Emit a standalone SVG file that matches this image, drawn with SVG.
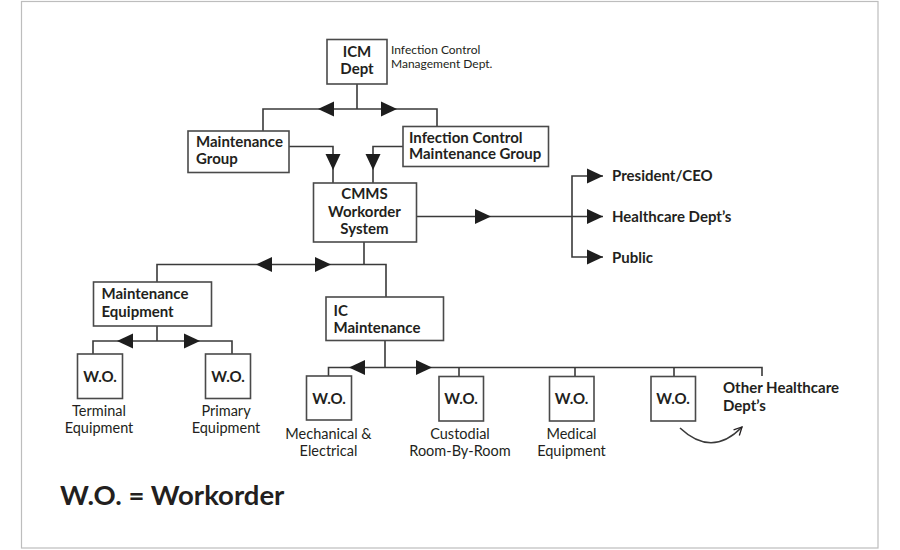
<svg xmlns="http://www.w3.org/2000/svg" width="900" height="550" viewBox="0 0 900 550">
<defs>
<style>
.frame{fill:#fff;stroke:#bdbdbd;stroke-width:1.2}
.box{fill:#fff;stroke:#4a4a4a;stroke-width:1.6}
.ln{fill:none;stroke:#3a3a3a;stroke-width:1.6}
.ah{fill:#1e1e1e}
.b{font-family:Lato,"Liberation Sans",sans-serif;font-weight:bold;font-size:15px;fill:#231f20}
.r{font-family:Lato,"Liberation Sans",sans-serif;font-size:14.5px;fill:#231f20}
.s{font-family:Lato,"Liberation Sans",sans-serif;font-size:12px;fill:#231f20}
.c{text-anchor:middle}
.big{font-family:Lato,"Liberation Sans",sans-serif;font-weight:bold;font-size:27.5px;fill:#231f20}
</style>
<path id="ar" d="M-16,-7.5 L0,0 L-16,7.5 Z"/>
<marker id="open" viewBox="0 0 10 10" refX="9" refY="5" markerWidth="10" markerHeight="10" markerUnits="userSpaceOnUse" orient="auto">
<path d="M1,1 L9,5 L1,9" fill="none" stroke="#231f20" stroke-width="1.3"/>
</marker>
</defs>
<rect x="0" y="0" width="900" height="550" fill="#fff"/>
<rect class="frame" x="21.5" y="1.5" width="856.5" height="546.5"/>

<g id="connectors">
<path class="ln" d="M357,84 V109 M263,131 V109 H437 V126"/>
<path class="ln" d="M289,146.5 H333 V183 M403,146.5 H373 V183"/>
<path class="ln" d="M417,216.5 H603 M603,176 H572 V257 H603"/>
<path class="ln" d="M364,242 V264.5 M157,282 V264.5 H386 V297"/>
<path class="ln" d="M157,326 V341 M93,354 V341 H232 V354"/>
<path class="ln" d="M385,341 V367.5 M328.5,376 V367.5 H762 V376 M459,367.5 V377 M575,367.5 V377 M674,367.5 V377"/>
<path class="ln" d="M680,428 Q712,458 742,427" stroke-width="1.4" marker-end="url(#open)"/>
<g class="ah">
<use href="#ar" transform="translate(318,109) rotate(180)"/>
<use href="#ar" transform="translate(397,109)"/>
<use href="#ar" transform="translate(333,170) rotate(90)"/>
<use href="#ar" transform="translate(373,170) rotate(90)"/>
<use href="#ar" transform="translate(491,216.5)"/>
<use href="#ar" transform="translate(603,176)"/>
<use href="#ar" transform="translate(603,216.5)"/>
<use href="#ar" transform="translate(603,257)"/>
<use href="#ar" transform="translate(256,264.5) rotate(180)"/>
<use href="#ar" transform="translate(331,264.5)"/>
<use href="#ar" transform="translate(117,341) rotate(180)"/>
<use href="#ar" transform="translate(200,341)"/>
<use href="#ar" transform="translate(349,367.5) rotate(180)"/>
<use href="#ar" transform="translate(432,367.5)"/>
</g>
</g>

<g id="icm">
<rect class="box" x="327" y="39.5" width="60" height="44.5"/>
<text class="b c" x="357" y="57">ICM</text>
<text class="b c" x="357" y="73.5">Dept</text>
<text class="s" x="391" y="53.5">Infection Control</text>
<text class="s" x="391" y="68">Management Dept.</text>
</g>

<g id="maint-group">
<rect class="box" x="188" y="131" width="101" height="41.5"/>
<text class="b" x="196" y="147">Maintenance</text>
<text class="b" x="196" y="163.5">Group</text>
</g>

<g id="ic-maint-group">
<rect class="box" x="403" y="126.5" width="145.5" height="40"/>
<text class="b" x="409" y="142.5">Infection Control</text>
<text class="b" x="409" y="159">Maintenance Group</text>
</g>

<g id="cmms">
<rect class="box" x="313.5" y="183" width="103" height="59"/>
<text class="b c" x="364.5" y="199">CMMS</text>
<text class="b c" x="364.5" y="216.5">Workorder</text>
<text class="b c" x="364.5" y="234">System</text>
</g>

<g id="president">
<text class="b" x="612" y="181">President/CEO</text>
</g>
<g id="healthcare">
<text class="b" x="612" y="222">Healthcare Dept’s</text>
</g>
<g id="public">
<text class="b" x="612" y="262.5">Public</text>
</g>

<g id="maint-equip">
<rect class="box" x="93.5" y="282" width="118" height="44"/>
<text class="b" x="101.5" y="299">Maintenance</text>
<text class="b" x="101.5" y="316.5">Equipment</text>
</g>

<g id="ic-maint">
<rect class="box" x="326" y="297" width="117.5" height="43.5"/>
<text class="b" x="333.5" y="315.5">IC</text>
<text class="b" x="333.5" y="332.5">Maintenance</text>
</g>

<g id="wo-terminal">
<rect class="box" x="77.5" y="354" width="45" height="44.5"/>
<text class="b c" x="100" y="381.5">W.O.</text>
<text class="r c" x="99" y="416">Terminal</text>
<text class="r c" x="99" y="433">Equipment</text>
</g>

<g id="wo-primary">
<rect class="box" x="205.5" y="354" width="45" height="44.5"/>
<text class="b c" x="228" y="381.5">W.O.</text>
<text class="r c" x="226" y="416">Primary</text>
<text class="r c" x="226" y="433">Equipment</text>
</g>

<g id="wo-mech">
<rect class="box" x="306.5" y="376" width="45" height="44"/>
<text class="b c" x="329" y="403.5">W.O.</text>
<text class="r c" x="328.5" y="439">Mechanical &amp;</text>
<text class="r c" x="328.5" y="456">Electrical</text>
</g>

<g id="wo-custodial">
<rect class="box" x="439" y="376.5" width="44.5" height="44.5"/>
<text class="b c" x="461" y="404">W.O.</text>
<text class="r c" x="460" y="439">Custodial</text>
<text class="r c" x="460" y="456">Room-By-Room</text>
</g>

<g id="wo-medical">
<rect class="box" x="549.5" y="376.5" width="44.5" height="44.5"/>
<text class="b c" x="571.5" y="404">W.O.</text>
<text class="r c" x="571.5" y="439">Medical</text>
<text class="r c" x="571.5" y="456">Equipment</text>
</g>

<g id="wo-other">
<rect class="box" x="651" y="376.5" width="44.5" height="44.5"/>
<text class="b c" x="673" y="404">W.O.</text>
<text class="b" x="723" y="393">Other Healthcare</text>
<text class="b" x="723" y="410.5">Dept’s</text>
</g>

<g id="legend">
<text class="big" x="60" y="504.5">W.O. = Workorder</text>
</g>
</svg>
